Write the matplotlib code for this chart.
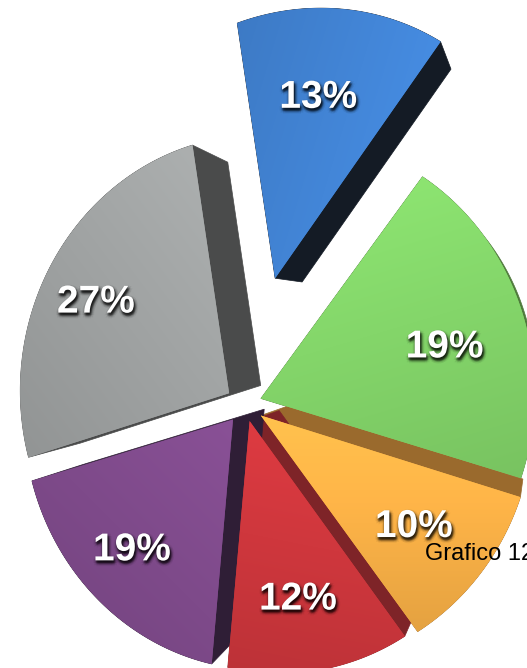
import numpy as np
import matplotlib
matplotlib.use("Agg")
import matplotlib.pyplot as plt
from matplotlib.patches import Polygon
from matplotlib.colors import to_rgb
from matplotlib import patheffects as pe

# Slice data, clockwise from the top
shares = [13, 19, 10, 12, 19, 27]
labels = [f"{s}%" for s in shares]
explode = [0.50, 0.07, 0.08, 0.07, 0.08, 0.08]
face_colors = ["#4386d8", "#84d66a", "#fbb247", "#cf373d", "#7e4a8a", "#a0a3a3"]
side_colors = ["#141b25", "#4f7a3c", "#9a6a2d", "#7e2428", "#2f1e36", "#4a4b4b"]
light_dirs = [(1.0, 0.3), (-0.3, -1.0), (0.0, -1.0), (0.2, -1.0), (0.7, -0.7), (0.8, -0.6)]
caption = "Grafico 12"

# Label placement inside each slice: radius fraction and angular nudge (deg)
label_radius = [0.68, 0.72, 0.72, 0.72, 0.72, 0.72]
label_turn = [0.0, -3.5, 0.0, 0.0, 0.0, 0.0]

W, H = 527, 668
fig = plt.figure(figsize=(W / 100, H / 100), dpi=100)
ax = fig.add_axes([0, 0, 1, 1])
ax.set_xlim(0, W)
ax.set_ylim(H, 0)
ax.axis("off")

# Perspective of the tilted disc
CX, CY = 245.0, 404.0
RX, RY = 237.0, 254.0
KX, KY = 0.1185, 0.015
VANISH = np.array([545.0, 316.0])
DEPTH = 0.10
START = 99.0


def project(u, v):
    u = np.asarray(u, float)
    v = np.asarray(v, float)
    w = 1 - KX * u - KY * v
    return np.column_stack([CX + RX * u / w, CY - RY * v / w])


def convex_hull(p):
    pts = sorted(set(map(tuple, np.round(p, 4))))

    def cross(o, a, b):
        return (a[0] - o[0]) * (b[1] - o[1]) - (a[1] - o[1]) * (b[0] - o[0])

    lower, upper = [], []
    for q in pts:
        while len(lower) >= 2 and cross(lower[-2], lower[-1], q) <= 0:
            lower.pop()
        lower.append(q)
    for q in reversed(pts):
        while len(upper) >= 2 and cross(upper[-2], upper[-1], q) <= 0:
            upper.pop()
        upper.append(q)
    return np.array(lower[:-1] + upper[:-1])


fracs = np.array(shares, float) / sum(shares)
bounds = START - 360 * np.concatenate([[0], np.cumsum(fracs)])

faces = []
for i in range(len(shares)):
    a0, a1 = np.radians(bounds[i]), np.radians(bounds[i + 1])
    mid = (a0 + a1) / 2
    ou, ov = explode[i] * np.cos(mid), explode[i] * np.sin(mid)
    t = np.linspace(a0, a1, 120)
    u = np.concatenate([[ou], ou + np.cos(t)])
    v = np.concatenate([[ov], ov + np.sin(t)])
    front = project(u, v)
    back = front + DEPTH * (VANISH - front)
    la = mid + np.radians(label_turn[i])
    lab = project(ou + label_radius[i] * np.cos(la),
                  ov + label_radius[i] * np.sin(la))[0]
    faces.append((front, back, lab))

# Extruded sides behind every face
for i, (front, back, _) in enumerate(faces):
    body = convex_hull(np.vstack([front, back]))
    ax.add_patch(Polygon(body, closed=True, facecolor=side_colors[i],
                         edgecolor=side_colors[i], lw=0.5, zorder=1))

# Shaded front faces
for i, (front, back, _) in enumerate(faces):
    base = np.array(to_rgb(face_colors[i]))
    poly = Polygon(front, closed=True, facecolor=base, edgecolor="none", zorder=2)
    ax.add_patch(poly)
    x0, y0 = front.min(axis=0)
    x1, y1 = front.max(axis=0)
    gx, gy = np.meshgrid(np.linspace(x0, x1, 200), np.linspace(y0, y1, 200))
    d = np.array(light_dirs[i], float)
    d /= np.hypot(*d)
    s = (gx - (x0 + x1) / 2) * d[0] + (gy - (y0 + y1) / 2) * d[1]
    s = s / np.abs(s).max()
    img = np.clip(base[None, None, :] * (1 + 0.09 * s[..., None]), 0, 1)
    im = ax.imshow(img, extent=(x0, x1, y1, y0), origin="upper",
                   interpolation="bilinear", zorder=3)
    im.set_clip_path(Polygon(front, closed=True, transform=ax.transData))

# Soft drop shadow under the percentage labels
shadow = []
for spread, alpha in [(2.4, 0.05), (1.4, 0.07), (0.6, 0.10)]:
    for ang in np.linspace(0, 2 * np.pi, 8, endpoint=False):
        shadow.append(pe.SimplePatchShadow(
            offset=(0.8 + spread * np.cos(ang), -1.8 + spread * np.sin(ang)),
            shadow_rgbFace="black", alpha=alpha))
shadow.append(pe.Normal())

for i, (_, _, lab) in enumerate(faces):
    ax.text(lab[0], lab[1], labels[i], color="white", zorder=5,
            family="Liberation Sans", fontweight="bold", fontsize=28,
            ha="center", va="center", path_effects=shadow)

ax.text(425, 554, caption, fontsize=17, family="Liberation Sans",
        color="black", ha="left", va="center", zorder=6)

fig.savefig("out.png", dpi=100)
